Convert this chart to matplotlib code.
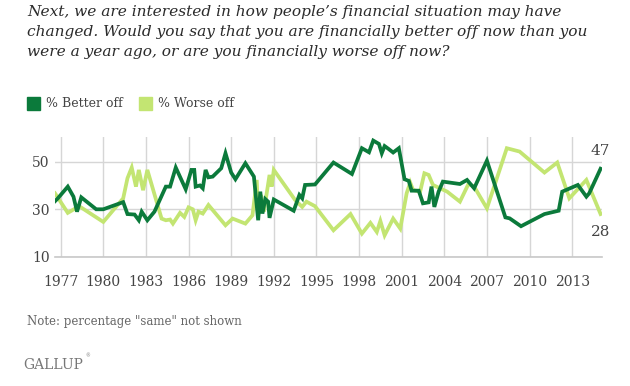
import matplotlib.pyplot as plt
from matplotlib.patches import Rectangle

# Gallup: financially better off / worse off than a year ago
better_years = [1976.6, 1976.8, 1977.5, 1977.9, 1978.15, 1978.45, 1979.5, 1980.0,
                1981.4, 1981.7, 1982.2, 1982.5, 1982.7, 1983.1, 1983.6, 1984.4,
                1984.7, 1985.1, 1985.8, 1986.2, 1986.4, 1986.5, 1986.8, 1987.0,
                1987.2, 1987.4, 1987.7, 1988.3, 1988.6, 1989.0, 1989.3, 1990.0,
                1990.6, 1990.9, 1991.05, 1991.2, 1991.4, 1991.6, 1991.7, 1992.0,
                1993.4, 1993.8, 1994.0, 1994.2, 1994.9, 1996.2, 1997.5, 1998.2,
                1998.7, 1999.0, 1999.4, 1999.6, 1999.8, 2000.1, 2000.4, 2000.8,
                2001.2, 2001.5, 2001.7, 2002.2, 2002.5, 2002.9, 2003.1, 2003.3,
                2003.6, 2003.9, 2005.1, 2005.6, 2006.1, 2007.0, 2008.3, 2008.6,
                2009.4, 2011.05, 2012.05, 2012.3, 2013.4, 2014.0, 2014.2, 2015.0]
better_vals = [33.4, 34.6, 39.5, 35.3, 29, 35, 30, 30,
               33, 28, 27.8, 25.4, 29, 25.4, 29, 39.5,
               39.5, 47.5, 38.4, 46.5, 46.5, 39.5, 40, 38.8,
               46.5, 43.4, 43.7, 47.2, 53.5, 45.4, 42.6, 49.3,
               43.7, 25.4, 37.4, 28.2, 34.3, 33.2, 26.4, 34.1,
               29.4, 36, 34.6, 40.2, 40.4, 49.6, 44.8, 55.6,
               53.9, 58.8, 57.4, 53.5, 56.5, 55.2, 53.8, 55.6,
               42.6, 41.9, 37.8, 37.8, 32.5, 32.9, 39.5, 31,
               37.4, 41.6, 40.6, 42.3, 38.8, 50.4, 26.6, 26.2,
               22.9, 28, 29.4, 37.4, 40.2, 35.3, 36.7, 47]

worse_years = [1976.6, 1977.5, 1978.3, 1980.0, 1981.4, 1981.7, 1982.0, 1982.3,
               1982.5, 1982.8, 1983.1, 1984.1, 1984.4, 1984.7, 1984.9, 1985.4,
               1985.7, 1986.0, 1986.3, 1986.5, 1986.7, 1987.0, 1987.4, 1988.6,
               1989.1, 1990.0, 1990.5, 1990.8, 1990.9, 1991.1, 1991.3, 1991.7,
               1991.85, 1992.0, 1993.5, 1994.0, 1994.3, 1994.9, 1996.2, 1997.4,
               1998.2, 1998.8, 1999.25, 1999.5, 1999.8, 2000.4, 2000.9, 2001.35,
               2001.6, 2001.8, 2002.3, 2002.6, 2002.9, 2003.2, 2004.2, 2005.1,
               2005.7, 2006.1, 2007.0, 2008.4, 2009.3, 2011.05, 2011.95, 2012.8,
               2014.0, 2015.0]
worse_vals = [36.7, 28.5, 31.3, 24.7, 34.6, 43, 47.5, 39.5,
              46.5, 38, 46.5, 26.1, 25.4, 25.7, 24, 28.5,
              26.8, 30.8, 30, 25.4, 29, 28.2, 31.8, 23.3,
              26.1, 24, 27.5, 42.3, 27.5, 36, 29, 44.4,
              39.5, 46.5, 33.9, 31, 33.2, 31.3, 21.2, 28,
              19.8, 24.3, 20.5, 25.1, 19.1, 26.1, 21.9, 36.7,
              41.2, 38.1, 37.4, 45.1, 44.4, 40.2, 37.4, 33.2,
              40.6, 39.5, 30.4, 55.6, 54.2, 45.4, 49.6, 34.6,
              42.3, 28]

year_ticks = [1977, 1980, 1983, 1986, 1989, 1992, 1995, 1998, 2001, 2004, 2007, 2010, 2013]
value_ticks = [10, 30, 50]

dark_green = '#0b7a3b'
light_green = '#c3e572'
text_gray = '#444444'

W, H = 630, 386
fig = plt.figure(figsize=(6.3, 3.86), dpi=100)
ax = fig.add_axes([55 / W, 1 - 257 / H, (602 - 55) / W, (257 - 137) / H])

ax.plot(worse_years, worse_vals, color=light_green, lw=2.7, solid_joinstyle='miter')
ax.plot(better_years, better_vals, color=dark_green, lw=2.7, solid_joinstyle='miter')

ax.set_xlim(1976.6, 2015.1)
ax.set_ylim(10, 60.3)
ax.set_xticks(year_ticks)
ax.set_yticks(value_ticks)
ax.tick_params(length=0, colors=text_gray, labelsize=10)
ax.tick_params(axis='x', pad=13)
ax.tick_params(axis='y', pad=4)
for lab in ax.get_xticklabels() + ax.get_yticklabels():
    lab.set_family('DejaVu Serif')
ax.grid(True, color='#d6d6d6', lw=1)
ax.set_axisbelow(True)
for side in ['top', 'right', 'left']:
    ax.spines[side].set_visible(False)
ax.spines['bottom'].set_color('#c8c8c8')
ax.spines['bottom'].set_linewidth(1.2)

# end labels
ax.annotate(str(int(better_vals[-1])), (better_years[-1], better_vals[-1]),
            xytext=(0, 8), textcoords='offset points', ha='center', va='bottom',
            fontsize=11, color=text_gray, family='DejaVu Serif')
ax.annotate(str(int(worse_vals[-1])), (worse_years[-1], worse_vals[-1]),
            xytext=(0, -8), textcoords='offset points', ha='center', va='top',
            fontsize=11, color=text_gray, family='DejaVu Serif')

# title
title = ("Next, we are interested in how people\u2019s financial situation may have\n"
         "changed. Would you say that you are financially better off now than you\n"
         "were a year ago, or are you financially worse off now?")
fig.text(27 / W, 1 - 5 / H, title, ha='left', va='top', fontsize=11.1,
         style='italic', family='DejaVu Serif', color='#2b2b2b', linespacing=1.55)

# legend
for x0, col, lab in [(27, dark_green, '% Better off'), (139, light_green, '% Worse off')]:
    fig.patches.append(Rectangle((x0 / W, 1 - 110 / H), 13 / W, 13 / H,
                                 transform=fig.transFigure, color=col))
    fig.text((x0 + 19) / W, 1 - 103.5 / H, lab, ha='left', va='center',
             fontsize=9, family='DejaVu Serif', color=text_gray)

fig.text(27 / W, 1 - 322 / H, 'Note: percentage "same" not shown', ha='left',
         va='center', fontsize=8.5, family='DejaVu Serif', color='#666666')
fig.text(23 / W, 1 - 365 / H, 'GALLUP', ha='left', va='center',
         fontsize=10, family='DejaVu Serif', color='#777777')
fig.text(85 / W, 1 - 356 / H, '®', ha='left', va='center',
         fontsize=3.5, family='DejaVu Serif', color='#777777')

fig.savefig('out.png', dpi=100)
